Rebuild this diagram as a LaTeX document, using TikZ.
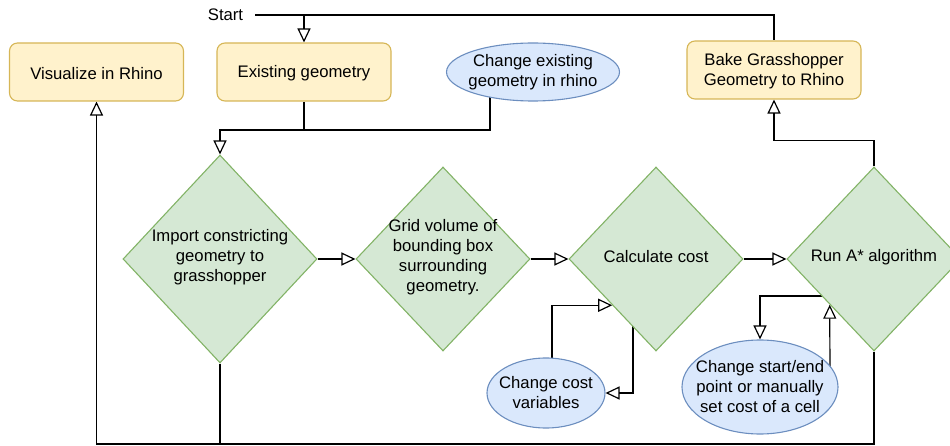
\documentclass[tikz,border=0pt]{standalone}
\usepackage{fontspec}
\setmainfont{Liberation Sans}
\usetikzlibrary{shapes.geometric,arrows.meta,backgrounds,calc}
\definecolor{yfill}{HTML}{FFF2CC}\definecolor{ydraw}{HTML}{D6B656}
\definecolor{gfill}{HTML}{D5E8D4}\definecolor{gdraw}{HTML}{82B366}
\definecolor{bfill}{HTML}{DAE8FC}\definecolor{bdraw}{HTML}{6C8EBF}
\begin{document}
\begin{tikzpicture}[x=1pt,y=-1pt,
  txt/.style={align=center,font=\fontsize{16.7}{20}\selectfont,inner sep=0},
  ybox/.style={rectangle,draw=ydraw,fill=yfill,rounded corners=8pt,line width=1.1pt,inner sep=0,
     minimum width=174pt,minimum height=58pt},
  gdia/.style={diamond,draw=gdraw,fill=gfill,line width=1.1pt,inner sep=0},
  bell/.style={ellipse,draw=bdraw,fill=bfill,line width=1.1pt,inner sep=0},
  conn/.style={draw=black,line width=1.2pt},
  arr/.style={conn,-{Triangle[length=14pt,width=13pt,fill=white,line width=1.2pt]}}]
\useasboundingbox (0,0) rectangle (950,446);
\clip (0,0) rectangle (950,446);

% boxes
\node[ybox] (vis) at (96.5,72) {};
\node[txt] (vist) at ([yshift=-1.5pt]vis.center) {Visualize in Rhino};
\node[ybox] (exist) at (304,72) {};
\node[txt] (existt) at ([yshift=-1.5pt]exist.center) {Existing geometry};
\node[ybox] (bake) at (774,70) {};
\node[txt] (baket) at ([yshift=-1pt]bake.center) {Bake Grasshopper\\Geometry to Rhino};

% ellipses
\node[bell,minimum width=173pt,minimum height=58pt] (ce) at (533,72) {};
\node[txt] (cet) at (ce.center) {Change existing\\geometry in rhino};
\node[bell,minimum width=118pt,minimum height=70pt] (cv) at (546,393) {};
\node[txt] (cvt) at (cv.center) {Change cost\\variables};
\node[bell,minimum width=156pt,minimum height=94pt] (cs) at (760,387) {};
\node[txt] (cst) at (cs.center) {Change start/end\\point or manually\\set cost of a cell};

% diamonds
\node[gdia,minimum width=194pt,minimum height=208pt] (imp) at (220,259) {};
\node[txt] (impt) at ([yshift=2pt]imp.center) {Import constricting\\geometry to\\grasshopper};
\node[gdia,minimum width=174pt,minimum height=184pt] (grid) at (443,259) {};
\node[txt] (gridt) at ([yshift=2pt]grid.center) {Grid volume of\\bounding box\\surrounding\\geometry.};
\node[gdia,minimum width=174pt,minimum height=184pt] (calc) at (656,259) {};
\node[txt] (calct) at ([yshift=2pt]calc.center) {Calculate cost};
\node[gdia,minimum width=174pt,minimum height=184pt] (run) at (874,259) {};
\node[txt] (runt) at ([yshift=2pt]run.center) {Run A* algorithm};

% start
\node[txt] (start) at (225.5,15) {Start};

\begin{scope}[on background layer]
  \coordinate (s0) at (255,15);
  \coordinate (j1) at (220,130);
  \coordinate (bl) at (96.5,444);
  \draw[conn] (s0) -| (bake.north);
  \draw[arr] (s0 -| exist.north) -- (exist.north);
  \draw[arr] (exist.south) |- (j1) -- (imp.north);
  \coordinate (ceb) at (490,85);
  \draw[conn] (ceb) |- (j1);
  \draw[arr] (imp.east) -- (grid.west);
  \draw[arr] (grid.east) -- (calc.west);
  \draw[arr] (calc.east) -- (run.west);
  % run -> bake
  \draw[arr] (run.north) -- ++(0,-26) -| (bake.south);
  % bottom loop
  \draw[conn] (imp.south) -- (imp.south |- bl);
  \draw[arr] (run.south) -- (run.south |- bl) -- (bl) -- (vis.south);
  % cost variables loop
  \coordinate (cvin) at (552,385);
  \coordinate (cin) at ($(calc.west)!0.5!(calc.south)$);
  \draw[arr] (cvin) |- (cin);
  \coordinate (cout) at (633,300);
  \draw[arr] (cout) |- (cv.east);
  % start/end loop
  \coordinate (rout) at (840,296);
  \draw[arr] (rout) -| (cs.north);
  \coordinate (csin) at (830,375);
  \coordinate (rin) at ($(run.west)!0.494!(run.south)$);
  \draw[arr] (csin) -- (rin);
\end{scope}
\end{tikzpicture}
\end{document}
